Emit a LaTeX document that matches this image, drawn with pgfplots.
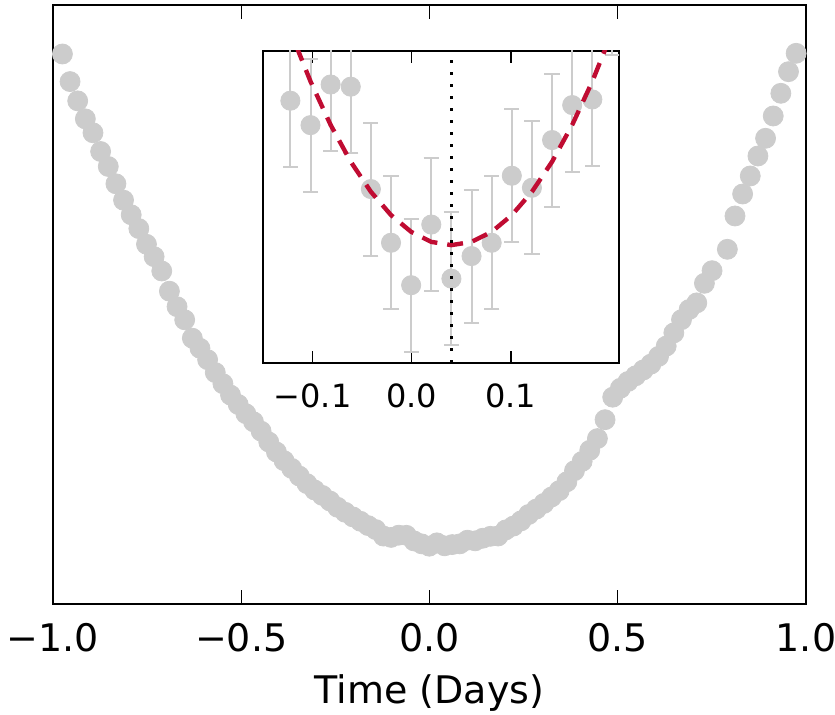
\documentclass[border=0pt]{standalone}
\usepackage{fontspec}
\setmainfont{DejaVu Sans}
\usepackage{pgfplots}
\pgfplotsset{compat=1.18}
\definecolor{dotgray}{RGB}{204,204,204}
\definecolor{fitred}{RGB}{192,12,50}

\pgfplotstableread{
x y
-0.975 550.0
-0.9547 522.4
-0.9344 503.1
-0.9141 485.1
-0.8938 471.2
-0.8735 452.5
-0.8532 437.5
-0.8329 420.2
-0.8126 403.8
-0.7923 389.2
-0.772 375.4
-0.7517 359.7
-0.7314 347.3
-0.7111 333.0
-0.6908 312.8
-0.6705 297.3
-0.6502 284.2
-0.6299 265.8
-0.6096 255.7
-0.5893 244.3
-0.569 231.4
-0.5487 220.3
-0.5284 208.9
-0.5081 199.5
-0.4878 190.3
-0.4675 182.2
-0.4472 172.8
-0.4269 162.0
-0.4066 152.0
-0.3863 143.3
-0.366 135.6
-0.3457 127.9
-0.3254 120.3
-0.3051 114.0
-0.2848 108.6
-0.2645 103.0
-0.2442 96.7
-0.2239 91.7
-0.2036 87.1
-0.1833 82.7
-0.163 78.4
-0.1427 74.4
-0.1224 67.93
-0.1021 66.59
-0.0818 68.82
-0.0615 68.70
-0.0412 63.08
-0.0209 60.13
-0.0006 57.80
0.0197 61.13
0.04 58.16
0.0603 59.40
0.0806 60.13
0.1009 63.81
0.1212 63.15
0.1415 65.77
0.1618 67.69
0.1821 68.00
0.2024 74.08
0.2227 77.9
0.243 83.1
0.2633 89.5
0.2836 94.9
0.3039 100.6
0.3242 107.0
0.3445 113.3
0.3648 122.2
0.3851 133.3
0.4054 142.6
0.4257 153.7
0.446 165.4
0.4663 184.3
0.4866 206.8
0.5069 215.7
0.5272 222.5
0.5475 228.2
0.5678 234.0
0.5881 239.9
0.6084 247.6
0.6287 257.9
0.649 271.1
0.6693 284.3
0.6896 294.5
0.7099 301.1
0.7302 320.7
0.7505 333.3
0.7911 354.7
0.8114 388.0
0.8317 410.0
0.852 428.0
0.8723 448.0
0.8926 465.7
0.9129 488.0
0.9332 510.7
0.9535 532.3
0.9738 550.7
}\maindata

\pgfplotstableread{
x y e
-0.1224 67.93 3.65
-0.1021 66.59 3.65
-0.0818 68.82 3.65
-0.0615 68.70 3.65
-0.0412 63.08 3.65
-0.0209 60.13 3.65
-0.0006 57.80 3.65
0.0197 61.13 3.65
0.04 58.16 3.65
0.0603 59.40 3.65
0.0806 60.13 3.65
0.1009 63.81 3.65
0.1212 63.15 3.65
0.1415 65.77 3.65
0.1618 67.69 3.65
0.1821 68.00 3.65
0.2024 74.08 3.65
}\insetdata

\pgfplotstableread{
x y
-0.2645 101.26
-0.2442 95.94
-0.2239 90.99
-0.2036 86.41
-0.1833 82.19
-0.163 78.34
-0.1427 74.85
-0.1224 71.74
-0.1021 68.99
-0.0818 66.60
-0.0615 64.58
-0.0412 62.93
-0.0209 61.65
-0.0006 60.73
0.0197 60.18
0.04 60.00
0.0603 60.18
0.0806 60.73
0.1009 61.65
0.1212 62.93
0.1415 64.58
0.1618 66.60
0.1821 68.99
0.2024 71.74
0.2227 74.85
0.243 78.34
}\fitdata

\begin{document}
\begin{tikzpicture}
\begin{axis}[name=main, scale only axis, width=376.5pt, height=299.5pt,
  xmin=-1, xmax=1, ymin=0, ymax=599,
  xtick={-1,-0.5,0,0.5,1}, xticklabels={−1.0,−0.5,0.0,0.5,1.0},
  ytick=\empty,
  tick align=inside, major tick length=7pt,
  axis line style={line width=1.3pt},
  every tick/.style={black, line width=0.6pt},
  xticklabel shift=6.2pt,
  tick label style={font=\fontsize{19}{22}\selectfont},
  xlabel={Time (Days)}, label style={font=\fontsize{19}{22}\selectfont},
  xlabel style={yshift=-4.5pt},
]
\addplot[only marks, mark=*, mark size=5pt, mark options={draw=dotgray, fill=dotgray}] table[x=x,y=y] {\maindata};
\addplot[fitred, line width=2.2pt, dash pattern=on 8pt off 5pt] table[x=x,y=y] {\fitdata};
\end{axis}
\begin{axis}[at={(main.north west)}, anchor=north west, xshift=105pt, yshift=-23pt,
  scale only axis, width=178pt, height=156pt,
  xmin=-0.15, xmax=0.209, ymin=53.53, ymax=70.66,
  xtick={-0.1,0,0.1}, xticklabels={−0.1,0.0,0.1},
  ytick=\empty,
  tick align=inside, major tick length=6pt,
  axis line style={line width=1.3pt},
  every tick/.style={black, line width=0.6pt},
  xticklabel shift=7pt,
  tick label style={font=\fontsize{16}{19}\selectfont},
  axis background/.style={fill=white},
  clip marker paths=true,
]
\addplot[only marks, mark=*, mark size=4.8pt, color=dotgray, mark options={draw=dotgray, fill=dotgray},
  error bars/.cd, y dir=both, y explicit,
  error bar style={line width=1pt, dotgray},
  error mark options={dotgray, line width=1pt, mark size=3.8pt, rotate=90}]
  table[x=x, y=y, y error=e] {\insetdata};
\addplot[fitred, line width=2.2pt, dash pattern=on 8pt off 5pt] table[x=x,y=y] {\fitdata};
\addplot[black, line width=1.8pt, dash pattern=on 1.4pt off 4.6pt] coordinates {(0.04,53.53) (0.04,70.66)};
\end{axis}
\pgfresetboundingbox
\path[use as bounding box] ([shift={(-26.5pt,-55.5pt)}]main.south west) rectangle ([shift={(14.5pt,2.5pt)}]main.north east);
\end{tikzpicture}
\end{document}
